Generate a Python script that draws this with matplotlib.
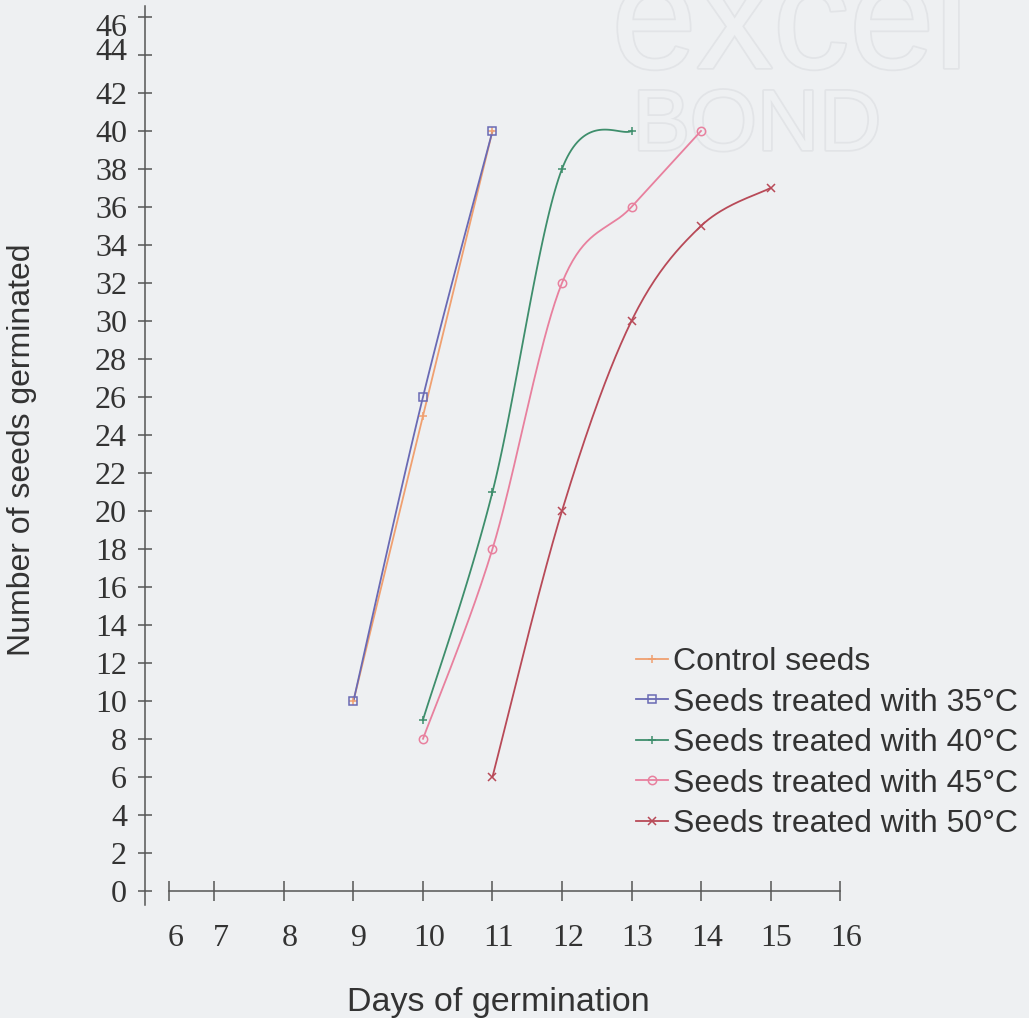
import numpy as np
import matplotlib
matplotlib.use("Agg")
import matplotlib.pyplot as plt
from matplotlib.lines import Line2D
from matplotlib import patheffects
from matplotlib.transforms import ScaledTranslation

# germination counts per day for each treatment
days_control = [9, 10, 11]
seeds_control = [10, 25, 40]

days_35 = [9, 10, 11]
seeds_35 = [10, 26, 40]

days_40 = [10, 11, 12, 13]
seeds_40 = [9, 21, 38, 40]

days_45 = [10, 11, 12, 13, 14]
seeds_45 = [8, 18, 32, 36, 40]

days_50 = [11, 12, 13, 14, 15]
seeds_50 = [6, 20, 30, 35, 37]

labels = ["Control seeds", "Seeds treated with 35°C", "Seeds treated with 40°C",
          "Seeds treated with 45°C", "Seeds treated with 50°C"]
colors = ["#f0a070", "#6a6ab4", "#3e8e6c", "#e8809e", "#b84a58"]
markers = ["+", "s", "+", "o", "x"]

x_ticks = [6.35, 7, 8, 9, 10, 11, 12, 13, 14, 15, 16]
x_tick_labels = ["6", "7", "8", "9", "10", "11", "12", "13", "14", "15", "16"]
y_ticks = list(range(0, 47, 2))

W, H = 1029, 1018
BG = "#eef0f2"
INK = "#333333"
SERIF = ["Liberation Serif", "DejaVu Serif"]
SANS = ["Liberation Sans", "DejaVu Sans"]


def smooth(xs, ys, n=40):
    # Catmull-Rom style cubic Bezier through the points
    p = np.column_stack([xs, ys]).astype(float)
    out = [p[0]]
    t = np.linspace(0, 1, n)[1:, None]
    for i in range(len(p) - 1):
        prev = p[max(i - 1, 0)]
        nxt = p[min(i + 2, len(p) - 1)]
        c1 = p[i] + (p[i + 1] - prev) / 6
        c2 = p[i + 1] - (nxt - p[i]) / 6
        seg = ((1 - t) ** 3 * p[i] + 3 * (1 - t) ** 2 * t * c1
               + 3 * (1 - t) * t ** 2 * c2 + t ** 3 * p[i + 1])
        out.extend(seg)
    return np.array(out)


fig = plt.figure(figsize=(W / 100, H / 100), dpi=100, facecolor=BG)

# faint paper watermark
for txt, cx, cy, size in [("excel", 790, 68, 110), ("BOND", 757, 150, 62)]:
    fig.text(cx / W, 1 - cy / H, txt, ha="center", va="baseline", fontsize=size,
             family=SANS, color=BG, zorder=0,
             path_effects=[patheffects.withStroke(linewidth=2.5, foreground="#e2e4e7")])

ax = fig.add_axes([145 / W, (H - 905) / H, (840 - 145) / W, (905 - 5.6) / H])
ax.set_zorder(2)
ax.set_facecolor("none")
ax.set_xlim(6, 16)
ax.set_ylim(-0.75, 46.6)

series = [(days_control, seeds_control), (days_35, seeds_35), (days_40, seeds_40),
          (days_45, seeds_45), (days_50, seeds_50)]
handles = []
for (xs, ys), lab, col, mk in zip(series, labels, colors, markers):
    curve = smooth(xs, ys)
    ax.plot(curve[:, 0], curve[:, 1], color=col, lw=1.3, zorder=3)
    ax.plot(xs, ys, ls="none", marker=mk, ms=6, mfc="none", mec=col, mew=1.1, zorder=4)
    handles.append(Line2D([], [], color=col, lw=1.3, marker=mk, ms=6, mfc="none",
                          mec=col, mew=1.1))

for s in ["top", "right"]:
    ax.spines[s].set_visible(False)
ax.spines["bottom"].set_position(("data", 0))
ax.spines["bottom"].set_bounds(6.35, 16)
for s in ["left", "bottom"]:
    ax.spines[s].set_color("#555555")
    ax.spines[s].set_linewidth(1.1)

ax.set_xticks(x_ticks)
ax.set_xticklabels(x_tick_labels, family=SERIF, fontsize=23, color=INK)
ax.set_yticks(y_ticks)
ax.set_yticklabels([str(v) for v in y_ticks], family=SERIF, fontsize=23, color=INK)
ax.tick_params(axis="x", direction="inout", length=14, width=1.1, color="#555555", pad=17)
ax.tick_params(axis="y", direction="inout", length=10, width=1.1, color="#555555", pad=8)

# the two top y labels sit a little off their ticks
for lab in ax.get_yticklabels():
    if lab.get_text() == "46":
        lab.set_transform(lab.get_transform() + ScaledTranslation(0, -8 / 100, fig.dpi_scale_trans))
    elif lab.get_text() == "44":
        lab.set_transform(lab.get_transform() + ScaledTranslation(0, 6 / 100, fig.dpi_scale_trans))
for lab in ax.get_xticklabels():
    lab.set_transform(lab.get_transform() + ScaledTranslation(6 / 100, 0, fig.dpi_scale_trans))

fig.text(22 / W, 1 - 450 / H, "Number of seeds germinated", rotation=90,
         ha="center", va="center", fontsize=23, family=SANS, color=INK)
fig.text(498 / W, 1 - 1002 / H, "Days of germination",
         ha="center", va="center", fontsize=24.5, family=SANS, color=INK)

fig.legend(handles, labels, loc="upper left", bbox_to_anchor=(636 / W, 1 - 647 / H),
           frameon=False, prop={"family": SANS, "size": 23}, labelcolor=INK,
           handlelength=1.0, handletextpad=0.15, labelspacing=0.33, borderpad=0,
           borderaxespad=0)

fig.savefig("out.png", dpi=100, facecolor=BG)
